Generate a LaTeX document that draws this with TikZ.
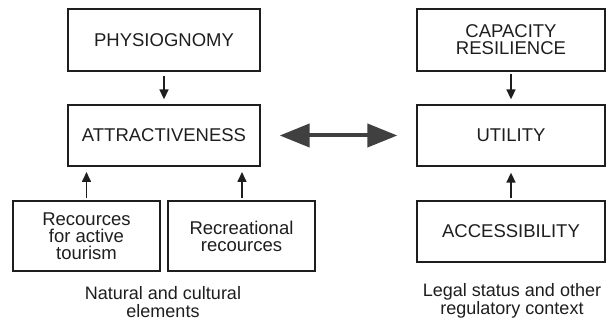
\documentclass[tikz,border=0pt]{standalone}
\usepackage{fontspec}
\setmainfont{Liberation Sans}
\usetikzlibrary{arrows.meta}
\definecolor{ink}{HTML}{1E1E1E}
\tikzset{
  boxnode/.style={draw=ink, line width=1.3pt, rectangle, inner sep=0pt, align=center, text=ink,
    font=\fontsize{18.5}{17}\selectfont},
  capnode/.style={align=center, text=ink, inner sep=0pt, font=\fontsize{18}{17.5}\selectfont},
  uparrow/.style={draw=ink, line width=1.6pt, -{Triangle[length=10pt,width=9pt]}},
  bigarrow/.style={draw=black!75, line width=4pt, {Triangle[length=30pt,width=23pt]}-{Triangle[length=30pt,width=23pt]}}
}
\begin{document}
\begin{tikzpicture}[x=1pt,y=-1pt]
\useasboundingbox[fill=white] (0,0) rectangle (614,320);
\node[boxnode, minimum width=192pt, minimum height=62pt] (phys) at (164,40) {PHYSIOGNOMY};
\node[boxnode, minimum width=192pt, minimum height=61pt] (attr) at (164,135.5) {ATTRACTIVENESS};
\node[boxnode, minimum width=188pt, minimum height=62pt] (cap) at (511,40) {CAPACITY\\RESILIENCE};
\node[boxnode, minimum width=188pt, minimum height=61pt] (util) at (511,135.5) {UTILITY};
\node[boxnode, minimum width=147pt, minimum height=70pt] (rat) at (86.5,236) {Recources\\for active\\tourism};
\node[boxnode, minimum width=147pt, minimum height=70pt] (rr) at (241.5,236) {Recreational\\recources};
\node[boxnode, minimum width=188pt, minimum height=61pt] (acc) at (511,231.5) {ACCESSIBILITY};
\node[capnode] (nat) at (163,302) {Natural and cultural\\elements};
\node[capnode] (legal) at (512,301) {Legal status and other\\regulatory context};
\coordinate (ra) at (86.5,166);
\coordinate (rb) at (242,166);
\draw[uparrow, shorten <=4pt, shorten >=5pt] (phys.south) -- (attr.north);
\draw[uparrow, shorten <=2pt, shorten >=5pt] (cap.south) -- (util.north);
\draw[uparrow, shorten <=2pt, shorten >=6pt] (rat.north) -- (ra);
\draw[uparrow, shorten <=2pt, shorten >=6pt] (rb |- rr.north) -- (rb);
\draw[uparrow, shorten <=2pt, shorten >=6pt] (acc.north) -- (util.south);
\draw[bigarrow, shorten <=19pt, shorten >=19pt] (attr.east) -- (util.west);
\end{tikzpicture}
\end{document}
